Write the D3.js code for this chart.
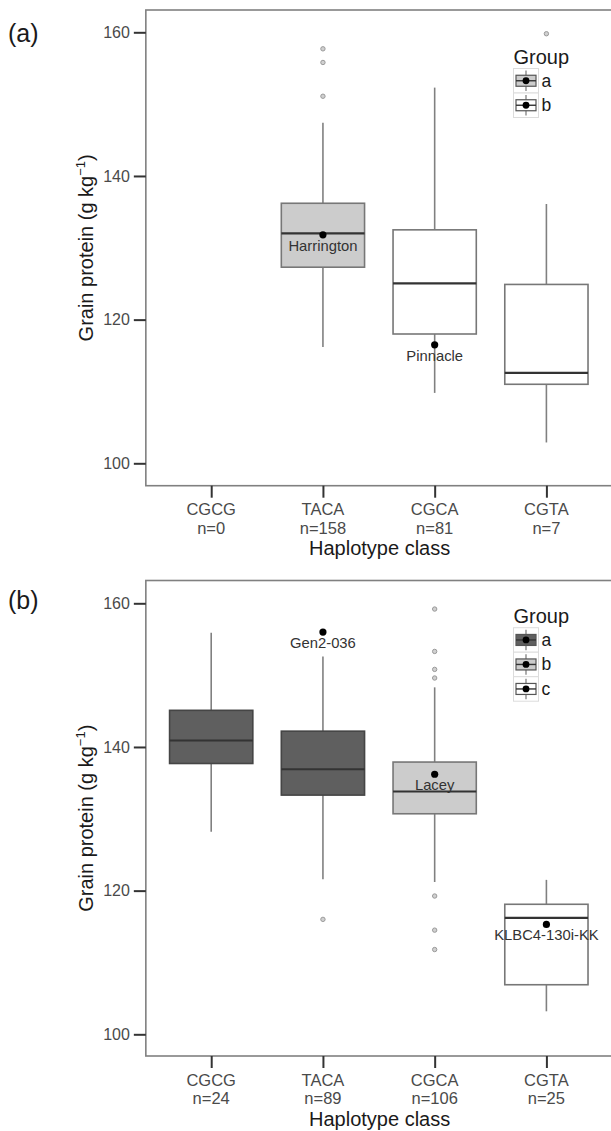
<!DOCTYPE html>
<html>
<head>
<meta charset="utf-8">
<script src="https://cdn.jsdelivr.net/npm/d3@7"></script>
<style>
  html, body { margin: 0; padding: 0; background: #ffffff; }
  svg { display: block; font-family: "Liberation Sans", Arial, sans-serif; }
</style>
</head>
<body>
<svg id="chart" width="611" height="1131"></svg>
<script>
// ---------- data ----------
const categories = ["CGCG", "TACA", "CGCA", "CGTA"];
const yTicks = [100, 120, 140, 160];

// panel (a)
const countsA = [0, 158, 81, 7];
const groupsA = [null, "a", "b", "b"];
// [lower whisker, Q1, median, Q3, upper whisker]
const statsA = [
  null,
  [116.2, 127.3, 132.0, 136.2, 147.4],
  [109.8, 118.0, 125.05, 132.5, 152.3],
  [102.9, 111.0, 112.6, 124.9, 136.1]
];
const outliersA = [[], [151.1, 155.8, 157.7], [], [159.8]];
const highlightNamesA = [null, "Harrington", "Pinnacle", null];
const highlightValuesA = [null, 131.8, 116.5, null];
const legendGroupsA = ["a", "b"];

// panel (b)
const countsB = [24, 89, 106, 25];
const groupsB = ["a", "a", "b", "c"];
const statsB = [
  [128.2, 137.7, 140.9, 145.1, 155.9],
  [121.6, 133.3, 136.9, 142.2, 152.6],
  [121.2, 130.7, 133.8, 137.9, 148.3],
  [103.2, 106.9, 116.2, 118.1, 121.5]
];
const outliersB = [[], [116.0], [111.8, 114.5, 119.25, 149.6, 150.8, 153.3, 159.2], []];
const highlightNamesB = [null, "Gen2-036", "Lacey", "KLBC4-130i-KK"];
const highlightValuesB = [null, 156.0, 136.2, 115.3];
const legendGroupsB = ["a", "b", "c"];

// ---------- styles ----------
const fillsA = { a: "#cccccc", b: "#ffffff" };
const fillsB = { a: "#5f5f5f", b: "#cccccc", c: "#ffffff" };

const svg = d3.select("#chart");

function drawPanel(cfg) {
  const g = svg.append("g");
  const x = d3.scaleLinear().domain([1, 4]).range([211.2, 546.4]);
  const y = d3.scaleLinear().domain([100, 160]).range([cfg.y100, cfg.y160]);
  const left = x(0.415), right = x(4.6);
  const top = cfg.top, bottom = cfg.bottom;
  const boxW = (x(2) - x(1)) * 0.745;

  // panel border
  g.append("rect")
    .attr("x", left).attr("y", top)
    .attr("width", right - left).attr("height", bottom - top)
    .attr("fill", "none").attr("stroke", "#808080").attr("stroke-width", 1.6);

  // y axis
  const ya = g.append("g").attr("transform", `translate(${left},0)`)
    .call(d3.axisLeft(y).tickValues(yTicks).tickSize(12).tickPadding(4).tickFormat(d3.format("d")));
  ya.select(".domain").remove();
  ya.selectAll(".tick line").attr("stroke", "#333").attr("stroke-width", 2);
  ya.selectAll(".tick text").attr("font-size", 16).attr("fill", "#4a4a4a")
    .attr("font-family", "Liberation Sans, Arial, sans-serif");

  // x axis
  const xa = g.append("g").attr("transform", `translate(0,${bottom})`)
    .call(d3.axisBottom(x).tickValues([1, 2, 3, 4]).tickSize(12).tickFormat(""));
  xa.select(".domain").remove();
  xa.selectAll(".tick line").attr("stroke", "#333").attr("stroke-width", 2);
  categories.forEach((c, i) => {
    const t = g.append("text").attr("x", x(i + 1)).attr("text-anchor", "middle")
      .attr("font-size", 16.5).attr("fill", "#4a4a4a");
    t.append("tspan").attr("x", x(i + 1)).attr("y", bottom + 29.5).text(c);
    t.append("tspan").attr("x", x(i + 1)).attr("y", bottom + 48).text("n=" + cfg.counts[i]);
  });

  // axis titles
  g.append("text").attr("x", (left + right) / 2).attr("y", bottom + 69.5)
    .attr("text-anchor", "middle").attr("font-size", 20).attr("fill", "#1a1a1a")
    .text("Haplotype class");
  const yt = g.append("text")
    .attr("transform", `translate(93.3,${(top + bottom) / 2}) rotate(-90)`)
    .attr("text-anchor", "middle").attr("font-size", 20).attr("fill", "#1a1a1a");
  yt.append("tspan").text("Grain protein (g kg");
  yt.append("tspan").attr("font-size", 13).attr("dy", -8).text("\u22121");
  yt.append("tspan").attr("dy", 8).text(")");

  // panel letter
  g.append("text").attr("x", 8).attr("y", cfg.letterY).attr("font-size", 25)
    .attr("fill", "#1a1a1a").text(cfg.letter);

  // boxes
  cfg.stats.forEach((s, i) => {
    if (!s) return;
    const cx = x(i + 1);
    const grp = cfg.groups[i];
    const fill = cfg.fills[grp];
    const dark = fill === "#5f5f5f";
    const bx = g.append("g");
    bx.append("line").attr("x1", cx).attr("x2", cx).attr("y1", y(s[0])).attr("y2", y(s[1]))
      .attr("stroke", "#808080").attr("stroke-width", 1.6);
    bx.append("line").attr("x1", cx).attr("x2", cx).attr("y1", y(s[3])).attr("y2", y(s[4]))
      .attr("stroke", "#808080").attr("stroke-width", 1.6);
    bx.append("rect").attr("x", cx - boxW / 2).attr("width", boxW)
      .attr("y", y(s[3])).attr("height", y(s[1]) - y(s[3]))
      .attr("fill", fill).attr("stroke", dark ? "#454545" : "#777777").attr("stroke-width", 1.6);
    bx.append("line").attr("x1", cx - boxW / 2).attr("x2", cx + boxW / 2)
      .attr("y1", y(s[2])).attr("y2", y(s[2]))
      .attr("stroke", "#333333").attr("stroke-width", 2.2);
  });

  // outliers
  cfg.outliers.forEach((arr, i) => {
    arr.forEach(v => {
      g.append("circle").attr("cx", x(i + 1)).attr("cy", y(v)).attr("r", 2.2)
        .attr("fill", "#d0d0d0").attr("stroke", "#9a9a9a").attr("stroke-width", 1);
    });
  });

  // highlighted cultivars
  cfg.hlNames.forEach((name, i) => {
    if (!name) return;
    const cx = x(i + 1), cy = y(cfg.hlValues[i]);
    g.append("circle").attr("cx", cx).attr("cy", cy).attr("r", 3.6).attr("fill", "#000");
    g.append("text").attr("x", cx).attr("y", cy + 16).attr("text-anchor", "middle")
      .attr("font-size", 14.8).attr("fill", "#333").text(name);
  });

  // legend
  const lx = 513.5;
  g.append("text").attr("x", lx).attr("y", cfg.legendTitleY).attr("font-size", 20)
    .attr("fill", "#1a1a1a").text("Group");
  cfg.legendGroups.forEach((grp, k) => {
    const ky = cfg.legendKeyTop + k * 24.5;
    const kg = g.append("g");
    kg.append("rect").attr("x", lx).attr("y", ky).attr("width", 25).attr("height", 24.5)
      .attr("fill", "#ffffff").attr("stroke", "#dcdcdc").attr("stroke-width", 1);
    const kcx = lx + 12.5, kcy = ky + 12.25;
    kg.append("line").attr("x1", kcx).attr("x2", kcx).attr("y1", ky + 2).attr("y2", ky + 22.5)
      .attr("stroke", "#808080").attr("stroke-width", 1.3);
    kg.append("rect").attr("x", kcx - 10).attr("y", kcy - 5.5).attr("width", 20).attr("height", 11)
      .attr("fill", cfg.fills[grp]).attr("stroke", "#555").attr("stroke-width", 1.2);
    kg.append("line").attr("x1", kcx - 10).attr("x2", kcx + 10).attr("y1", kcy).attr("y2", kcy)
      .attr("stroke", "#333").attr("stroke-width", 1.4);
    kg.append("circle").attr("cx", kcx).attr("cy", kcy).attr("r", 3.4).attr("fill", "#000");
    g.append("text").attr("x", lx + 28).attr("y", kcy + 6).attr("font-size", 17.5)
      .attr("fill", "#1a1a1a").text(grp);
  });
}

drawPanel({
  letter: "(a)", letterY: 41.5,
  top: 10, bottom: 485.7, y100: 463.3, y160: 32.3,
  counts: countsA, groups: groupsA, stats: statsA, outliers: outliersA,
  hlNames: highlightNamesA, hlValues: highlightValuesA,
  fills: fillsA, legendGroups: legendGroupsA,
  legendTitleY: 63.5, legendKeyTop: 68.5
});

drawPanel({
  letter: "(b)", letterY: 608.5,
  top: 580.5, bottom: 1056, y100: 1034.3, y160: 603.3,
  counts: countsB, groups: groupsB, stats: statsB, outliers: outliersB,
  hlNames: highlightNamesB, hlValues: highlightValuesB,
  fills: fillsB, legendGroups: legendGroupsB,
  legendTitleY: 622.7, legendKeyTop: 627.7
});
</script>
</body>
</html>
